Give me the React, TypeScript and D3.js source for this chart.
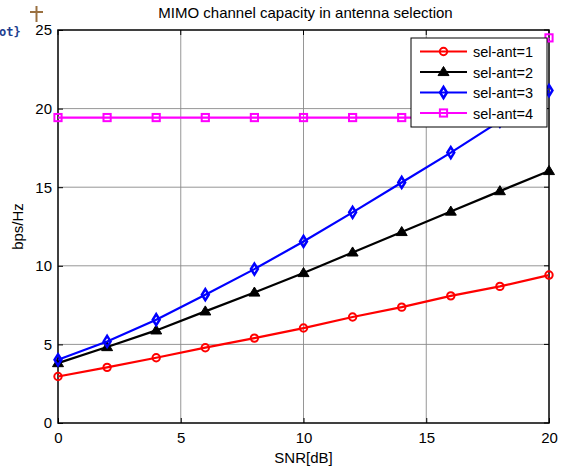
import React, { useEffect, useRef } from "react";
import * as d3 from "d3";

const snr = [0, 2, 4, 6, 8, 10, 12, 14, 16, 18, 20];
const selAnt1 = [2.96, 3.54, 4.15, 4.79, 5.4, 6.04, 6.74, 7.37, 8.09, 8.69, 9.41];
const selAnt2 = [3.81, 4.83, 5.89, 7.1, 8.3, 9.54, 10.85, 12.15, 13.45, 14.75, 16.03];
const selAnt3 = [4.02, 5.19, 6.57, 8.16, 9.79, 11.55, 13.4, 15.3, 17.2, 19.2, 21.15];
const selAnt4 = [19.43, 19.43, 19.43, 19.43, 19.43, 19.43, 19.43, 19.43, 19.43, 19.43, 24.5];
const xTicks = [0, 5, 10, 15, 20];
const yTicks = [0, 5, 10, 15, 20, 25];

const seriesNames = ["sel-ant=1", "sel-ant=2", "sel-ant=3", "sel-ant=4"];
const seriesValues = [selAnt1, selAnt2, selAnt3, selAnt4];
const seriesColors = ["#ff0000", "#000000", "#0000ff", "#ff00ff"];
const seriesMarkers = ["circle", "triangle", "diamond", "square"];

export default function App() {
  const svgRef = useRef<SVGSVGElement>(null);

  useEffect(() => {
    const width = 563;
    const height = 472;
    const margin = { top: 30, right: 14, bottom: 49, left: 58 };
    const innerWidth = width - margin.left - margin.right;
    const innerHeight = height - margin.top - margin.bottom;
    const font = "Arial, 'Liberation Sans', sans-serif";

    const root = d3.select(svgRef.current);
    root.selectAll("*").remove();
    root.attr("width", width).attr("height", height).style("font-family", font);

    root.append("rect").attr("width", width).attr("height", height).attr("fill", "#fff");

    // screenshot leftovers in the corner
    root.append("text").attr("x", -1).attr("y", 36)
      .attr("fill", "#1f3f8f").style("font-size", "12px").style("font-weight", "bold")
      .style("font-family", "'DejaVu Sans Mono', monospace").text("ot}");
    root.append("line").attr("x1", 30).attr("x2", 43).attr("y1", 12).attr("y2", 12)
      .attr("stroke", "#9a7040").attr("stroke-width", 2);
    root.append("line").attr("x1", 36.5).attr("x2", 36.5).attr("y1", 6).attr("y2", 22)
      .attr("stroke", "#9a7040").attr("stroke-width", 2);

    const svg = root.append("g").attr("transform", `translate(${margin.left},${margin.top})`);

    const x = d3.scaleLinear().domain([0, 20]).range([0, innerWidth]);
    const y = d3.scaleLinear().domain([0, 25]).range([innerHeight, 0]);

    // grid
    svg.append("g").selectAll("line").data(xTicks.slice(1, -1)).enter().append("line")
      .attr("x1", d => x(d)).attr("x2", d => x(d)).attr("y1", 0).attr("y2", innerHeight)
      .attr("stroke", "#8a8a8a").attr("stroke-width", 0.9);
    svg.append("g").selectAll("line").data(yTicks.slice(1, -1)).enter().append("line")
      .attr("x1", 0).attr("x2", innerWidth).attr("y1", d => y(d)).attr("y2", d => y(d))
      .attr("stroke", "#8a8a8a").attr("stroke-width", 0.9);

    // axes
    const xAxis = svg.append("g").attr("transform", `translate(0,${innerHeight})`)
      .call(d3.axisBottom(x).tickValues(xTicks).tickSize(-5).tickPadding(9).tickSizeOuter(0));
    const yAxis = svg.append("g")
      .call(d3.axisLeft(y).tickValues(yTicks).tickSize(-5).tickPadding(6).tickSizeOuter(0));
    [xAxis, yAxis].forEach(a => {
      a.select(".domain").remove();
      a.selectAll("line").attr("stroke", "#000");
      a.selectAll("text").style("font-size", "15px").attr("fill", "#000").style("font-family", font);
    });
    // right/top ticks
    svg.append("g").selectAll("line").data(yTicks).enter().append("line")
      .attr("x1", innerWidth).attr("x2", innerWidth - 5).attr("y1", d => y(d)).attr("y2", d => y(d))
      .attr("stroke", "#000");
    svg.append("g").selectAll("line").data(xTicks).enter().append("line")
      .attr("x1", d => x(d)).attr("x2", d => x(d)).attr("y1", 0).attr("y2", 5)
      .attr("stroke", "#000");

    svg.append("rect").attr("width", innerWidth).attr("height", innerHeight)
      .attr("fill", "none").attr("stroke", "#000").attr("stroke-width", 1.5);

    const drawMarker = (g: any, kind: string, cx: number, cy: number, color: string) => {
      if (kind === "circle") {
        g.append("circle").attr("cx", cx).attr("cy", cy).attr("r", 3.7)
          .attr("fill", "none").attr("stroke", color).attr("stroke-width", 2);
      } else if (kind === "triangle") {
        const s = 5.5;
        g.append("path")
          .attr("d", `M${cx},${cy - s}L${cx + s},${cy + s * 0.65}L${cx - s},${cy + s * 0.65}Z`)
          .attr("fill", color).attr("stroke", color).attr("stroke-width", 1);
      } else if (kind === "diamond") {
        const s = 4.6;
        g.append("path")
          .attr("d", `M${cx},${cy - s * 1.2}L${cx + s * 0.75},${cy}L${cx},${cy + s * 1.2}L${cx - s * 0.75},${cy}Z`)
          .attr("fill", "none").attr("stroke", color).attr("stroke-width", 2.5);
      } else {
        const s = 3.6;
        g.append("rect").attr("x", cx - s).attr("y", cy - s).attr("width", 2 * s).attr("height", 2 * s)
          .attr("fill", "none").attr("stroke", color).attr("stroke-width", 2);
      }
    };

    const line = d3.line<number>().x((_, i) => x(snr[i])).y(d => y(d));

    seriesValues.forEach((vals, si) => {
      const g = svg.append("g");
      g.append("path").datum(vals).attr("d", line).attr("fill", "none")
        .attr("stroke", seriesColors[si]).attr("stroke-width", 2.2);
      vals.forEach((v, i) => drawMarker(g, seriesMarkers[si], x(snr[i]), y(v), seriesColors[si]));
    });

    // legend
    const lg = root.append("g").attr("transform", "translate(411,38)");
    lg.append("rect").attr("width", 136).attr("height", 89)
      .attr("fill", "#fff").attr("stroke", "#000").attr("stroke-width", 1);
    seriesNames.forEach((name, i) => {
      const ly = 13.5 + i * 20.5;
      lg.append("line").attr("x1", 9).attr("x2", 56).attr("y1", ly).attr("y2", ly)
        .attr("stroke", seriesColors[i]).attr("stroke-width", 2.2);
      drawMarker(lg, seriesMarkers[i], 32.5, ly, seriesColors[i]);
      lg.append("text").attr("x", 62).attr("y", ly + 5.5).style("font-size", "14.5px")
        .attr("fill", "#000").text(name);
    });

    // title & labels
    root.append("text").attr("x", margin.left + innerWidth / 2 + 2).attr("y", 18)
      .attr("text-anchor", "middle").style("font-size", "15px").text("MIMO channel capacity in antenna selection");
    root.append("text").attr("x", margin.left + innerWidth / 2).attr("y", 463)
      .attr("text-anchor", "middle").style("font-size", "15px").text("SNR[dB]");
    root.append("text").attr("transform", `translate(23,${margin.top + innerHeight / 2}) rotate(-90)`)
      .attr("text-anchor", "middle").style("font-size", "15px").text("bps/Hz");
  }, []);

  return <svg ref={svgRef} style={{ display: "block", position: "absolute", left: 0, top: 0 }}></svg>;
}
